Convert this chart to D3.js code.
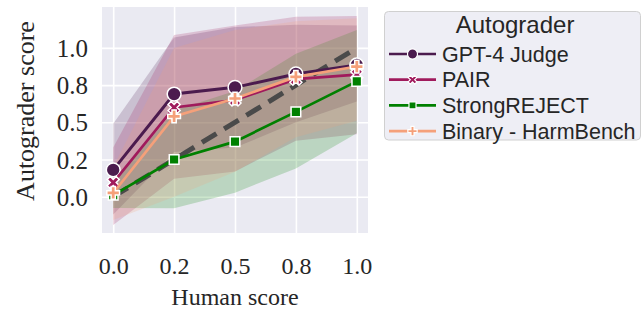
<!DOCTYPE html>
<html>
<head>
<meta charset="utf-8">
<script src="https://cdn.jsdelivr.net/npm/d3@7"></script>
<style>
  body { margin: 0; background: #fff; }
  svg { display: block; }
</style>
</head>
<body>
<svg id="chart" width="644" height="316"></svg>
<script>
// human score bins and tick labels
var humanScores = [0, 0.25, 0.5, 0.75, 1.0];
var tickValues = [0, 0.25, 0.5, 0.75, 1.0];
var tickLabels = ["0.0", "0.2", "0.5", "0.8", "1.0"];

var seriesNames = ["GPT-4 Judge", "PAIR", "StrongREJECT", "Binary - HarmBench"];
var seriesColors = ["#4b1b4e", "#a01a5c", "#008000", "#f5a07a"];
var seriesMarkers = ["circle", "x", "square", "plus"];

// mean autograder score per bin
var gptMean    = [0.18, 0.69, 0.735, 0.825, 0.885];
var pairMean   = [0.095, 0.60, 0.65, 0.79, 0.82];
var strongMean = [0.01, 0.25, 0.37, 0.57, 0.775];
var binaryMean = [0.025, 0.54, 0.66, 0.805, 0.875];

// error band edges
var gptLo    = [-0.12, 0.30, 0.33, 0.50, 0.64];
var gptHi    = [0.49, 1.07, 1.14, 1.155, 1.15];
var pairLo   = [-0.19, 0.12, 0.17, 0.376, 0.42];
var pairHi   = [0.33, 1.086, 1.15, 1.21, 1.214];
var strongLo = [-0.076, -0.078, 0.027, 0.19, 0.426];
var strongHi = [0.09, 0.58, 0.71, 0.96, 1.12];
var binaryLo = [-0.157, 0.0, 0.168, 0.40, 0.51];
var binaryHi = [0.20, 1.0, 1.12, 1.18, 1.20];

var means = [gptMean, pairMean, strongMean, binaryMean];
var los = [gptLo, pairLo, strongLo, binaryLo];
var his = [gptHi, pairHi, strongHi, binaryHi];

var svg = d3.select("#chart");
var plot = { left: 102, right: 368, top: 7, bottom: 233 };

var x = d3.scaleLinear().domain([-0.046, 1.046]).range([plot.left, plot.right]);
var y = d3.scaleLinear().domain([-0.244, 1.275]).range([plot.bottom, plot.top]);

svg.append("rect")
  .attr("x", plot.left).attr("y", plot.top)
  .attr("width", plot.right - plot.left).attr("height", plot.bottom - plot.top)
  .attr("fill", "#eaeaf2");

// grid
var xAxis = svg.append("g")
  .attr("transform", "translate(0," + plot.bottom + ")")
  .call(d3.axisBottom(x).tickValues(tickValues).tickSize(-(plot.bottom - plot.top))
    .tickPadding(24).tickFormat((d, i) => tickLabels[i]));
var yAxis = svg.append("g")
  .attr("transform", "translate(" + plot.left + ",0)")
  .call(d3.axisLeft(y).tickValues(tickValues).tickSize(-(plot.right - plot.left))
    .tickPadding(14).tickFormat((d, i) => tickLabels[i]));

[xAxis, yAxis].forEach(function(ax) {
  ax.select(".domain").remove();
  ax.selectAll(".tick line").attr("stroke", "#fff").attr("stroke-width", 1.6);
  ax.selectAll(".tick text")
    .style("font-family", "Liberation Serif")
    .style("font-size", "24px")
    .attr("fill", "#262626");
});
yAxis.selectAll(".tick text").attr("dy", "0.34em").style("font-size", "25px");

function markerPath(kind, size) {
  if (kind == "circle") return d3.symbol().type(d3.symbolCircle).size(size)();
  if (kind == "square") return d3.symbol().type(d3.symbolSquare).size(size * 0.62)();
  return d3.symbol().type(d3.symbolCross).size(size * 0.6)();
}

// bands
for (var s = 0; s < 4; s++) {
  var lo = los[s], hi = his[s];
  svg.append("path")
    .datum(humanScores)
    .attr("d", d3.area()
      .x(d => x(d))
      .y0((d, i) => y(lo[i]))
      .y1((d, i) => y(hi[i])))
    .attr("fill", seriesColors[s])
    .attr("fill-opacity", 0.2);
}

// ideal diagonal
svg.append("path")
  .datum([0, 1])
  .attr("d", d3.line().x(d => x(d)).y(d => y(d)))
  .attr("fill", "none")
  .attr("stroke", "#4a4a4a")
  .attr("stroke-width", 5)
  .attr("stroke-dasharray", "17,9");

for (var s = 0; s < 4; s++) {
  var m = means[s];
  svg.append("path")
    .datum(humanScores)
    .attr("d", d3.line().x(d => x(d)).y((d, i) => y(m[i])))
    .attr("fill", "none")
    .attr("stroke", seriesColors[s])
    .attr("stroke-width", s == 0 ? 3 : 2.7);

  svg.append("g").selectAll("path")
    .data(humanScores)
    .join("path")
    .attr("d", markerPath(seriesMarkers[s], 150))
    .attr("transform", (d, i) => "translate(" + x(d) + "," + y(m[i]) + ")" +
      (seriesMarkers[s] == "x" ? " rotate(45)" : ""))
    .attr("fill", seriesColors[s])
    .attr("stroke", "#fff")
    .attr("stroke-width", 1.5);
}

// axis labels
svg.append("text")
  .attr("x", (plot.left + plot.right) / 2).attr("y", 305)
  .attr("text-anchor", "middle")
  .style("font-family", "Liberation Serif").style("font-size", "24px")
  .attr("fill", "#262626")
  .text("Human score");

svg.append("text")
  .attr("transform", "translate(34,111) rotate(-90)")
  .attr("text-anchor", "middle")
  .style("font-family", "Liberation Serif").style("font-size", "26px")
  .attr("fill", "#262626")
  .text("Autograder score");

// legend
var legend = svg.append("g");
legend.append("rect")
  .attr("x", 384.5).attr("y", 11.5).attr("width", 256).attr("height", 128.5)
  .attr("rx", 4)
  .attr("fill", "#eeeef5").attr("stroke", "#d0d0d0");
legend.append("text")
  .attr("x", 515).attr("y", 33)
  .attr("text-anchor", "middle")
  .style("font-family", "Liberation Sans").style("font-size", "24px")
  .attr("fill", "#262626")
  .text("Autograder");

seriesNames.forEach(function(name, i) {
  var cy = 54 + i * 25.7;
  legend.append("line")
    .attr("x1", 389).attr("x2", 436).attr("y1", cy).attr("y2", cy)
    .attr("stroke", seriesColors[i]).attr("stroke-width", 2.7);
  legend.append("path")
    .attr("d", markerPath(seriesMarkers[i], 80))
    .attr("transform", "translate(412.5," + cy + ")" + (seriesMarkers[i] == "x" ? " rotate(45)" : ""))
    .attr("fill", seriesColors[i]).attr("stroke", "#fff").attr("stroke-width", 1.2);
  legend.append("text")
    .attr("x", 442).attr("y", cy + 7.5)
    .style("font-family", "Liberation Sans").style("font-size", "21.5px")
    .attr("fill", "#262626")
    .text(name);
});
</script>
</body>
</html>
